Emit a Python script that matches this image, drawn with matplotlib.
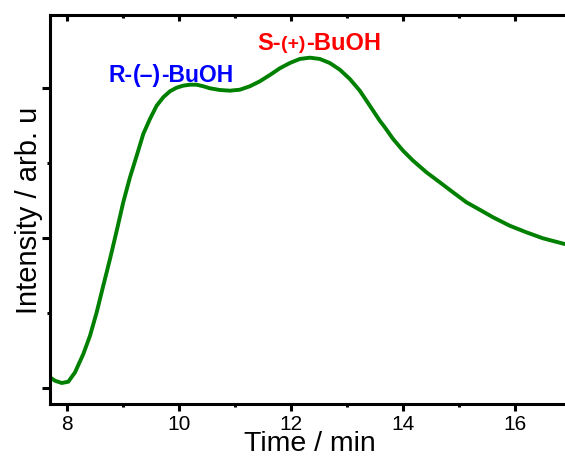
import matplotlib
matplotlib.use("Agg")
import matplotlib.pyplot as plt
from matplotlib.ticker import MultipleLocator

plt.rcParams['font.family'] = ['Liberation Sans', 'DejaVu Sans']

time_min = [7.696, 7.786, 7.905, 8.023, 8.143, 8.291, 8.411, 8.530, 8.648, 8.768,
            8.888, 9.005, 9.125, 9.245, 9.363, 9.482, 9.602, 9.720, 9.839, 9.959,
            10.077, 10.196, 10.316, 10.434, 10.554, 10.732, 10.911, 11.089, 11.268,
            11.446, 11.625, 11.804, 11.982, 12.161, 12.339, 12.518, 12.696, 12.875,
            13.054, 13.232, 13.411, 13.589, 13.679, 13.827, 14.005, 14.184, 14.423,
            14.661, 14.898, 15.138, 15.375, 15.613, 15.911, 16.209, 16.505, 16.893]
intensity = [0.143, 0.097, 0.067, 0.084, 0.209, 0.453, 0.697, 1.009, 1.364, 1.72,
             2.097, 2.476, 2.809, 3.097, 3.387, 3.587, 3.764, 3.876, 3.956, 4.004,
             4.031, 4.044, 4.044, 4.023, 3.996, 3.973, 3.964, 3.977, 4.023,
             4.089, 4.173, 4.263, 4.333, 4.387, 4.404, 4.387, 4.333, 4.244,
             4.12, 3.964, 3.764, 3.564, 3.476, 3.32, 3.164, 3.031, 2.876,
             2.743, 2.609, 2.476, 2.377, 2.276, 2.164, 2.076, 1.996, 1.92]

x_ticks = [8, 10, 12, 14, 16]
label_r = ["R-", "(\u2013)", "-BuOH"]
label_s = ["S-", "(+)", "-BuOH"]

W, H = 565, 460
fig = plt.figure(figsize=(W / 100, H / 100), dpi=100)
ax = fig.add_axes([50 / W, (H - 405) / H, 1 - 50 / W + 0.01, (405 - 16) / H])

ax.plot(time_min, intensity, color='#008000', lw=2.8, solid_capstyle='round',
        solid_joinstyle='round')

ax.set_xlim(7.696, 17.0)
ax.set_ylim(-0.213, 4.973)

ax.set_xticks(x_ticks)
ax.xaxis.set_minor_locator(MultipleLocator(1))
ax.yaxis.set_major_locator(MultipleLocator(2))
ax.yaxis.set_minor_locator(MultipleLocator(1))
ax.set_yticklabels([])

for s in ['left', 'bottom', 'top']:
    ax.spines[s].set_linewidth(2.2)
ax.spines['right'].set_visible(False)

ax.tick_params(axis='x', which='major', direction='out', length=5, width=2.2,
               labelsize=15, pad=2, top=True)
ax.tick_params(axis='x', which='minor', direction='out', length=2.5, width=2.2, top=True)
ax.tick_params(axis='y', which='major', direction='out', length=5.5, width=2.2)
ax.tick_params(axis='y', which='minor', direction='out', length=2.5, width=2.2)
for t in ax.xaxis.get_major_ticks():
    t.tick2line.set_marker(3)
    t.tick2line.set_markersize(4)
for t in ax.xaxis.get_minor_ticks():
    t.tick2line.set_marker(3)
    t.tick2line.set_markersize(2)

ax.set_xlabel("Time / min", fontsize=20.5, labelpad=-2)
ax.set_ylabel("Intensity / arb. u", fontsize=21, labelpad=-4)


def chained(parts, x, y, color, big, small, rise):
    t = ax.text(x, y, parts[0], color=color, fontsize=big, fontweight='bold',
                ha='left', va='baseline')
    p = ax.annotate(parts[1], xy=(1, y), xycoords=(t, 'data'), xytext=(0, rise),
                    textcoords='offset points', color=color, fontsize=small,
                    fontweight='bold', ha='left', va='baseline')
    ax.annotate(parts[2], xy=(1, y), xycoords=(p, 'data'), color=color,
                fontsize=big, fontweight='bold', ha='left', va='baseline')
    return t


chained(label_r, 7.71 + (108 - 50) / 56, 4.09, '#0000FF', 16.5, 16.5, 0)
chained(label_s, 7.71 + (257 - 50) / 56, 4.52, '#FF0000', 17, 14, 1)

fig.savefig("out.png", dpi=100)
